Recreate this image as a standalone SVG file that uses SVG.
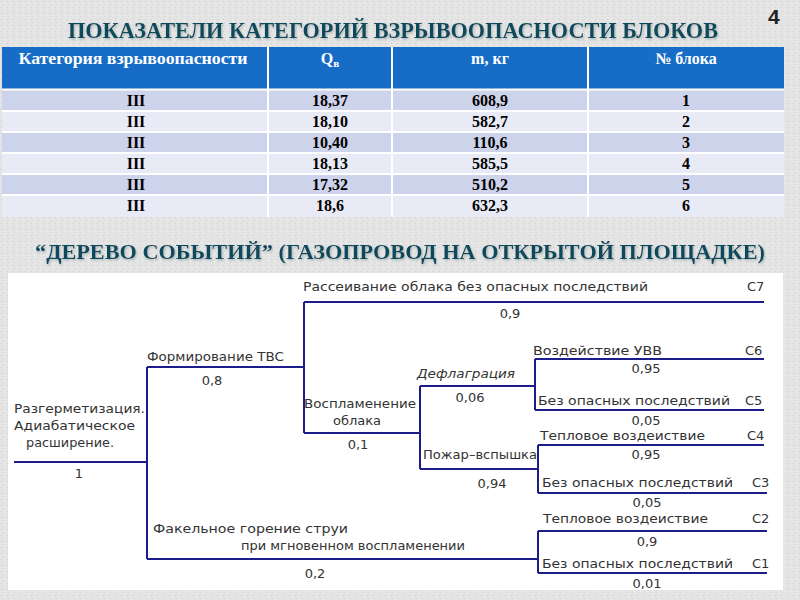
<svg xmlns="http://www.w3.org/2000/svg" width="800" height="600" viewBox="0 0 800 600">
<defs>
<pattern id="grain" width="6" height="6" patternUnits="userSpaceOnUse">
<rect width="6" height="6" fill="#e4e4e4"/>
<rect x="1" y="1" width="1" height="1" fill="#cfcfcf"/>
<rect x="4" y="3" width="1" height="1" fill="#f2f2f2"/>
<rect x="2" y="4" width="1" height="1" fill="#d6d6d6"/>
</pattern>
<filter id="sh" filterUnits="userSpaceOnUse" x="0" y="0" width="800" height="280">
<feDropShadow dx="1" dy="1.5" stdDeviation="0.8" flood-color="#9aa" flood-opacity="0.8"/>
</filter>
</defs>
<style>
.title{font-family:"Liberation Serif",serif;font-weight:bold;fill:#104a5c}
.hd{font-family:"Liberation Serif",serif;font-weight:bold;font-size:16px;fill:#ffffff;text-anchor:middle}
.cell{font-family:"Liberation Serif",serif;font-weight:bold;font-size:16px;fill:#000;text-anchor:middle}
.t{font-family:"DejaVu Sans","Liberation Sans",sans-serif;font-size:13px;fill:#333}
.n{font-family:"DejaVu Sans","Liberation Sans",sans-serif;font-size:13px;fill:#333;text-anchor:middle}
.ln{stroke:#1c1c8a;stroke-width:2;fill:none}
.sep{stroke:#ffffff;stroke-width:2}
</style>
<rect width="800" height="600" fill="url(#grain)"/>

<text x="768" y="24" font-family="Liberation Sans Narrow,Liberation Sans,sans-serif" font-weight="bold" font-size="21" fill="#222">4</text>
<text class="title" x="68" y="38" font-size="23" textLength="650" lengthAdjust="spacingAndGlyphs" filter="url(#sh)">ПОКАЗАТЕЛИ КАТЕГОРИЙ ВЗРЫВООПАСНОСТИ БЛОКОВ</text>

<g id="table">
<rect x="2" y="47" width="782" height="42" fill="#176cc6"/>
<rect x="2" y="90" width="782" height="21" fill="#cdd3ea"/>
<rect x="2" y="111" width="782" height="21" fill="#e8eaf5"/>
<rect x="2" y="132" width="782" height="21" fill="#cdd3ea"/>
<rect x="2" y="153" width="782" height="21" fill="#e8eaf5"/>
<rect x="2" y="174" width="782" height="21" fill="#cdd3ea"/>
<rect x="2" y="195" width="782" height="22" fill="#e8eaf5"/>
<line class="sep" x1="2" y1="89.5" x2="784" y2="89.5"/>
<line class="sep" x1="2" y1="111" x2="784" y2="111" stroke-width="1"/>
<line class="sep" x1="2" y1="132" x2="784" y2="132" stroke-width="1"/>
<line class="sep" x1="2" y1="153" x2="784" y2="153" stroke-width="1"/>
<line class="sep" x1="2" y1="174" x2="784" y2="174" stroke-width="1"/>
<line class="sep" x1="2" y1="195" x2="784" y2="195" stroke-width="1"/>
<line class="sep" x1="268" y1="47" x2="268" y2="217" stroke-width="1"/>
<line class="sep" x1="392" y1="47" x2="392" y2="217" stroke-width="1"/>
<line class="sep" x1="588" y1="47" x2="588" y2="217" stroke-width="1"/>
<text class="hd" x="133" y="64" textLength="229" lengthAdjust="spacingAndGlyphs">Категория взрывоопасности</text>
<text class="hd" x="330" y="64">Q<tspan font-size="11" dy="3">в</tspan></text>
<text class="hd" x="490" y="64">m, кг</text>
<text class="hd" x="686" y="64">№ блока</text>
<g>
<text class="cell" x="136" y="106">III</text><text class="cell" x="330" y="106">18,37</text><text class="cell" x="490" y="106">608,9</text><text class="cell" x="686" y="106">1</text>
<text class="cell" x="136" y="127">III</text><text class="cell" x="330" y="127">18,10</text><text class="cell" x="490" y="127">582,7</text><text class="cell" x="686" y="127">2</text>
<text class="cell" x="136" y="148">III</text><text class="cell" x="330" y="148">10,40</text><text class="cell" x="490" y="148">110,6</text><text class="cell" x="686" y="148">3</text>
<text class="cell" x="136" y="169">III</text><text class="cell" x="330" y="169">18,13</text><text class="cell" x="490" y="169">585,5</text><text class="cell" x="686" y="169">4</text>
<text class="cell" x="136" y="190">III</text><text class="cell" x="330" y="190">17,32</text><text class="cell" x="490" y="190">510,2</text><text class="cell" x="686" y="190">5</text>
<text class="cell" x="136" y="211">III</text><text class="cell" x="330" y="211">18,6</text><text class="cell" x="490" y="211">632,3</text><text class="cell" x="686" y="211">6</text>
</g>
</g>

<text class="title" x="35" y="259" font-size="22" textLength="730" lengthAdjust="spacingAndGlyphs" filter="url(#sh)">“ДЕРЕВО СОБЫТИЙ” (ГАЗОПРОВОД НА ОТКРЫТОЙ ПЛОЩАДКЕ)</text>

<rect x="8" y="273" width="775" height="317" fill="#ffffff"/>

<g id="connectors">
<path class="ln" d="M14 462 H147 M147 367 V559 M147 367 H304 M304 302 V433 M304 302 H764 M304 433 H420 M420 386 V469 M420 386 H535 M535 359 V410 M535 359 H764 M535 410 H764 M420 469 H538 M538 445 V493 M538 445 H764 M538 493 H767 M147 559 H538 M538 531 V573 M538 531 H767 M538 573 H767"/>
</g>

<g id="n-root">
<text class="t" x="14" y="413" textLength="131" lengthAdjust="spacingAndGlyphs">Разгерметизация.</text>
<text class="t" x="14" y="430" textLength="121" lengthAdjust="spacingAndGlyphs">Адиабатическое</text>
<text class="t" x="26" y="447" textLength="88" lengthAdjust="spacingAndGlyphs">расширение.</text>
<text class="n" x="79" y="478">1</text>
</g>
<g id="n-tvs">
<text class="t" x="147" y="361" textLength="137" lengthAdjust="spacingAndGlyphs">Формирование ТВС</text>
<text class="n" x="212" y="385">0,8</text>
</g>
<g id="n-c7">
<text class="t" x="303" y="291" textLength="345" lengthAdjust="spacingAndGlyphs">Рассеивание облака без опасных последствий</text>
<text class="t" x="747" y="291">C7</text>
<text class="n" x="510" y="318">0,9</text>
</g>
<g id="n-ign">
<text class="t" x="304" y="408" textLength="112" lengthAdjust="spacingAndGlyphs">Воспламенение</text>
<text class="n" x="357" y="425">облака</text>
<text class="n" x="358" y="449">0,1</text>
</g>
<g id="n-defl">
<text class="t" x="417" y="378" textLength="98" lengthAdjust="spacingAndGlyphs" font-style="italic">Дефлаграция</text>
<text class="n" x="470" y="402">0,06</text>
</g>
<g id="n-c6">
<text class="t" x="533" y="355" textLength="129" lengthAdjust="spacingAndGlyphs">Воздействие УВВ</text>
<text class="t" x="745" y="355">C6</text>
<text class="n" x="646" y="373">0,95</text>
</g>
<g id="n-c5">
<text class="t" x="538" y="405" textLength="192" lengthAdjust="spacingAndGlyphs">Без опасных последствий</text>
<text class="t" x="745" y="405">C5</text>
<text class="n" x="646" y="425" font-size="12">0,05</text>
</g>
<g id="n-flash">
<text class="t" x="423" y="459" textLength="114" lengthAdjust="spacingAndGlyphs">Пожар–вспышка</text>
<text class="n" x="492" y="488">0,94</text>
</g>
<g id="n-c4">
<text class="t" x="540" y="440" textLength="165" lengthAdjust="spacingAndGlyphs">Тепловое воздеиствие</text>
<text class="t" x="747" y="440">C4</text>
<text class="n" x="646" y="459">0,95</text>
</g>
<g id="n-c3">
<text class="t" x="542" y="487" textLength="191" lengthAdjust="spacingAndGlyphs">Без опасных последствий</text>
<text class="t" x="752" y="487">C3</text>
<text class="n" x="647" y="507">0,05</text>
</g>
<g id="n-jet">
<text class="t" x="153" y="533" textLength="195" lengthAdjust="spacingAndGlyphs">Факельное горение струи</text>
<text class="t" x="241" y="550" textLength="224" lengthAdjust="spacingAndGlyphs">при мгновенном воспламенении</text>
<text class="n" x="315" y="578">0,2</text>
</g>
<g id="n-c2">
<text class="t" x="543" y="523" textLength="165" lengthAdjust="spacingAndGlyphs">Тепловое воздеиствие</text>
<text class="t" x="752" y="523">C2</text>
<text class="n" x="647" y="546">0,9</text>
</g>
<g id="n-c1">
<text class="t" x="542" y="568" textLength="191" lengthAdjust="spacingAndGlyphs">Без опасных последствий</text>
<text class="t" x="752" y="568">C1</text>
<text class="n" x="647" y="588">0,01</text>
</g>
</svg>
